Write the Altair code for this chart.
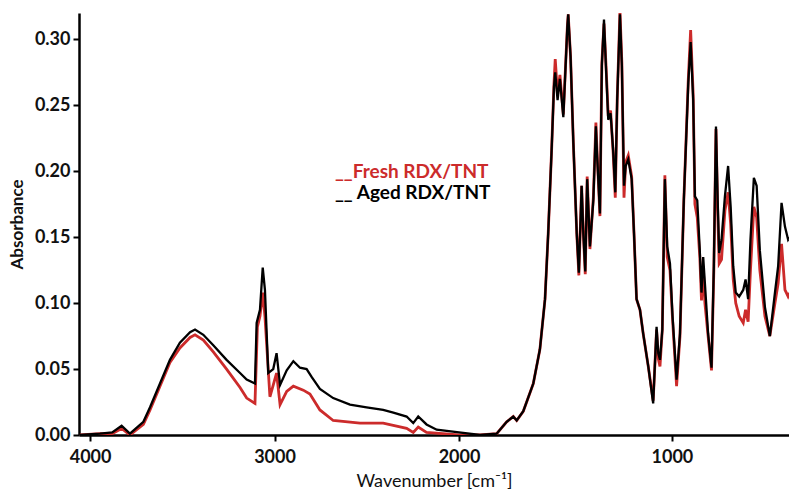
import altair as alt
import pandas as pd

# ---- data ----
aged_wn = [4055, 3946, 3880, 3829, 3784, 3711, 3675, 3621, 3567, 3513, 3458, 3431, 3386, 3332, 3260,
           3187, 3151, 3106, 3097, 3079, 3064, 3052, 3034, 3007, 2989, 2970, 2934, 2898, 2862, 2826,
           2799, 2754, 2682, 2591, 2501, 2411, 2356, 2284, 2248, 2221, 2176, 2121, 2000, 1901, 1823,
           1776, 1745, 1729, 1698, 1651, 1620, 1596, 1581, 1565, 1554, 1548, 1537, 1526, 1510, 1491,
           1487, 1476, 1463, 1447, 1437, 1424, 1416, 1407, 1398, 1385, 1369, 1357, 1351, 1338, 1329,
           1319, 1310, 1299, 1288, 1276, 1266, 1257, 1244, 1235, 1225, 1217, 1205, 1189, 1178, 1166,
           1150, 1135, 1111, 1088, 1072, 1064, 1056, 1045, 1033, 1022, 1009, 997, 978, 962, 944,
           923, 912, 900, 892, 881, 869, 861, 853, 845, 830, 814, 803, 793, 785, 778,
           767, 751, 736, 724, 712, 700, 684, 665, 654, 642, 631, 615, 602, 587, 563,
           540, 516, 501, 485, 469, 454, 445]
aged_abs = [0.000, 0.001, 0.002, 0.007, 0.001, 0.010, 0.021, 0.039, 0.057, 0.070, 0.078, 0.080, 0.076, 0.068, 0.057,
            0.047, 0.042, 0.039, 0.085, 0.095, 0.127, 0.110, 0.047, 0.050, 0.062, 0.038, 0.049, 0.056, 0.051, 0.050,
            0.044, 0.035, 0.028, 0.023, 0.021, 0.019, 0.017, 0.014, 0.009, 0.014, 0.008, 0.004, 0.002, 0.000, 0.001,
            0.010, 0.014, 0.011, 0.018, 0.039, 0.065, 0.103, 0.153, 0.216, 0.264, 0.275, 0.254, 0.270, 0.241, 0.310,
            0.319, 0.287, 0.222, 0.153, 0.123, 0.189, 0.153, 0.124, 0.194, 0.143, 0.178, 0.234, 0.211, 0.168, 0.280,
            0.315, 0.280, 0.239, 0.244, 0.216, 0.184, 0.254, 0.319, 0.280, 0.189, 0.204, 0.209, 0.194, 0.153, 0.103,
            0.095, 0.077, 0.052, 0.024, 0.082, 0.062, 0.057, 0.080, 0.194, 0.143, 0.130, 0.090, 0.042, 0.077, 0.178,
            0.267, 0.298, 0.254, 0.181, 0.178, 0.140, 0.108, 0.135, 0.115, 0.077, 0.051, 0.128, 0.234, 0.178, 0.138,
            0.148, 0.181, 0.204, 0.173, 0.128, 0.108, 0.105, 0.110, 0.118, 0.103, 0.148, 0.195, 0.189, 0.140, 0.097,
            0.075, 0.108, 0.128, 0.176, 0.158, 0.148, 0.150]

fresh_wn = [4055, 3946, 3880, 3829, 3784, 3711, 3675, 3621, 3567, 3513, 3458, 3431, 3386, 3332, 3260,
            3187, 3151, 3106, 3093, 3079, 3064, 3052, 3025, 2989, 2970, 2934, 2898, 2844, 2808, 2754,
            2682, 2537, 2411, 2284, 2248, 2221, 2176, 2000, 1901, 1823,
            1776, 1745, 1729, 1698, 1651, 1620, 1596, 1581, 1565, 1554, 1548, 1537, 1526, 1510, 1491,
            1487, 1476, 1463, 1447, 1437, 1424, 1416, 1407, 1398, 1385, 1369, 1357, 1351, 1338, 1329,
            1319, 1310, 1299, 1288, 1276, 1266, 1257, 1244, 1235, 1225, 1217, 1205, 1189, 1178, 1166,
            1150, 1135, 1111, 1088, 1072, 1064, 1056, 1045, 1033, 1022, 1009, 997, 978, 962, 944,
            923, 912, 900, 892, 881, 869, 861, 853, 845, 830, 814, 803, 793, 785, 778,
            767, 751, 736, 724, 712, 700, 684, 665, 654, 642, 631, 615, 602, 587, 563,
            540, 516, 501, 485, 469, 454, 445]
fresh_abs = [0.000, 0.001, 0.001, 0.005, 0.000, 0.008, 0.019, 0.037, 0.055, 0.066, 0.074, 0.076, 0.072, 0.063, 0.050,
             0.036, 0.028, 0.024, 0.082, 0.090, 0.108, 0.090, 0.029, 0.047, 0.023, 0.033, 0.037, 0.034, 0.031, 0.019,
             0.011, 0.009, 0.009, 0.005, 0.002, 0.006, 0.002, 0.000, 0.000, 0.001,
             0.010, 0.014, 0.011, 0.018, 0.039, 0.065, 0.103, 0.153, 0.216, 0.266, 0.285, 0.258, 0.273, 0.243, 0.310,
             0.319, 0.287, 0.222, 0.153, 0.121, 0.189, 0.153, 0.122, 0.196, 0.141, 0.180, 0.237, 0.213, 0.166, 0.282,
             0.312, 0.282, 0.242, 0.246, 0.214, 0.180, 0.254, 0.322, 0.282, 0.180, 0.207, 0.212, 0.196, 0.153, 0.103,
             0.095, 0.077, 0.052, 0.026, 0.080, 0.058, 0.052, 0.080, 0.197, 0.135, 0.125, 0.088, 0.037, 0.075, 0.178,
             0.270, 0.307, 0.258, 0.175, 0.165, 0.135, 0.102, 0.128, 0.100, 0.075, 0.049, 0.125, 0.232, 0.170, 0.130,
             0.133, 0.170, 0.184, 0.160, 0.118, 0.100, 0.090, 0.085, 0.095, 0.086, 0.125, 0.173, 0.165, 0.125, 0.090,
             0.075, 0.100, 0.115, 0.145, 0.110, 0.105, 0.108]

x_ticks = [4000, 3000, 2000, 1000]
y_ticks = [0.00, 0.05, 0.10, 0.15, 0.20, 0.25, 0.30]
legend_labels = ["__Fresh RDX/TNT", "__ Aged RDX/TNT"]

RED = "#cc2b2b"
FONT = "Lato"

aged = pd.DataFrame({"wn": aged_wn, "abs": aged_abs})
fresh = pd.DataFrame({"wn": fresh_wn, "abs": fresh_abs})

xscale = alt.Scale(domain=[4060, 2000, 450], range=[0, 380, 710], nice=False, zero=False)
yscale = alt.Scale(domain=[0, 0.32], nice=False, zero=True)

xaxis = alt.Axis(values=x_ticks, format="d", title="Wavenumber [cm⁻¹]", grid=False,
                 labelFont=FONT, labelFontSize=18, labelFontWeight="bold", labelColor="#111",
                 titleFont=FONT, titleFontSize=18, titleFontWeight="normal", titleColor="#111",
                 domainColor="black", domainWidth=2.5, tickColor="black", tickWidth=2, tickSize=6,
                 labelPadding=7, titlePadding=6, labelFlush=False)
yaxis = alt.Axis(values=y_ticks, format=".2f", title="Absorbance", grid=False,
                 labelFont=FONT, labelFontSize=18, labelFontWeight="bold", labelColor="#111",
                 titleFont=FONT, titleFontSize=17, titleFontWeight="bold", titleColor="#111",
                 domainColor="black", domainWidth=2.5, tickColor="black", tickWidth=2, tickSize=6,
                 labelPadding=3, titlePadding=8)

red_line = alt.Chart(fresh).mark_line(color=RED, strokeWidth=2.8, clip=True).encode(
    x=alt.X("wn:Q", scale=xscale, axis=xaxis),
    y=alt.Y("abs:Q", scale=yscale, axis=yaxis),
)
black_line = alt.Chart(aged).mark_line(color="black", strokeWidth=2.3, clip=True).encode(
    x=alt.X("wn:Q", scale=xscale),
    y=alt.Y("abs:Q", scale=yscale),
)

leg1 = alt.Chart(pd.DataFrame({"t": [legend_labels[0]]})).mark_text(
    align="left", baseline="middle", font=FONT, fontSize=19, fontWeight="bold", color=RED
).encode(text="t:N", x=alt.value(256), y=alt.value(159))
leg2 = alt.Chart(pd.DataFrame({"t": [legend_labels[1]]})).mark_text(
    align="left", baseline="middle", font=FONT, fontSize=19, fontWeight="bold", color="black"
).encode(text="t:N", x=alt.value(256), y=alt.value(180))

chart = alt.layer(red_line, black_line, leg1, leg2).properties(
    width=710, height=422,
    autosize=alt.AutoSizeParams(type="none"),
    padding={"left": 79, "top": 13, "right": 0, "bottom": 55},
    background="white",
).configure_view(stroke=None)

chart.save("out.html", embed_options={"renderer": "svg", "actions": False})
